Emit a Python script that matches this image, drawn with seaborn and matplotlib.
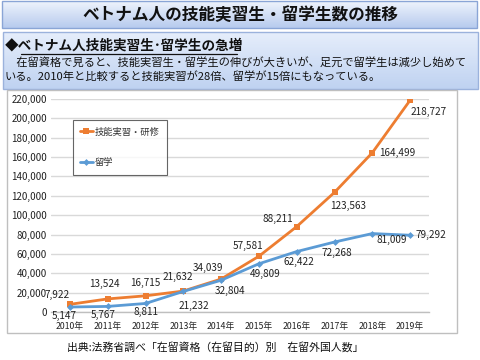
import numpy as np
import matplotlib
matplotlib.use("Agg")
import matplotlib.pyplot as plt
import seaborn as sns
import pandas as pd
from matplotlib.patches import Rectangle

years = ["2010年", "2011年", "2012年", "2013年", "2014年",
         "2015年", "2016年", "2017年", "2018年", "2019年"]
trainee = [7922, 13524, 16715, 21632, 34039, 57581, 88211, 123563, 164499, 218727]
student = [5147, 5767, 8811, 21232, 32804, 49809, 62422, 72268, 81009, 79292]
series_names = ["技能実習・研修", "留学"]
yticks = list(range(0, 220001, 20000))

title = "ベトナム人の技能実習生・留学生数の推移"
heading = "◆ベトナム人技能実習生･留学生の急増"
body1 = "　在留資格で見ると、技能実習生・留学生の伸びが大きいが、足元で留学生は減少し始めて"
body2 = "いる。2010年と比較すると技能実習が28倍、留学が15倍にもなっている。"
source = "出典:法務省調べ「在留資格（在留目的）別　在留外国人数」"

# label offsets in pixels (style)
off_tr = [(-13, 9), (-3, 15), (0, 13), (-6, 14), (-13, 11), (-11, 10), (-19, 8), (14, -14), (25, 0), (19, -12)]
off_st = [(-6, -9), (-5, -9), (0, -9), (11, -15), (9, -11), (6, -10), (2, -10), (2, -11), (19, -6), (21, 0)]

sns.set_theme(style="white")
plt.rcParams['font.family'] = ['Noto Sans CJK JP', 'DejaVu Sans']

W, H = 480, 360
fig = plt.figure(figsize=(4.8, 3.6), dpi=100)

# background drawing axes in pixel coords
bg = fig.add_axes([0, 0, 1, 1])
bg.set_xlim(0, W)
bg.set_ylim(H, 0)
bg.axis("off")

def grad_box(x0, y0, x1, y1, ctop, cbot, edge):
    c1 = np.array(matplotlib.colors.to_rgb(ctop))
    c2 = np.array(matplotlib.colors.to_rgb(cbot))
    t = np.linspace(0, 1, 64)[:, None]
    img = (c1 * (1 - t) + c2 * t)[:, None, :]
    bg.imshow(img, extent=(x0, x1, y1, y0), aspect="auto", zorder=0, interpolation="bilinear")
    bg.add_patch(Rectangle((x0, y0), x1 - x0, y1 - y0, fill=False, edgecolor=edge, lw=1, zorder=1))

grad_box(2, 1, 477, 28, "#eef3fc", "#b7cbee", "#8aa5d6")
grad_box(3, 32, 478, 89, "#e6eefb", "#bfd2f1", "#9bb2dc")
bg.add_patch(Rectangle((7, 90), 450, 243, facecolor="white", edgecolor="#bfbfbf", lw=1, zorder=1))
bg.set_xlim(0, W)
bg.set_ylim(H, 0)

bg.text(240, 14.5, title, ha="center", va="center", fontsize=12, fontweight="bold", color="#111111", zorder=3)
bg.text(5, 46, heading, ha="left", va="center", fontsize=9.8, fontweight="bold", color="#111111", zorder=3)
bg.plot([21, 237], [54, 54], color="#111111", lw=0.9, zorder=3)
bg.text(5, 62.5, body1, ha="left", va="center", fontsize=8.1, color="#111111", zorder=3)
bg.text(5, 77, body2, ha="left", va="center", fontsize=8.1, color="#111111", zorder=3)
bg.text(215, 347, source, ha="center", va="center", fontsize=7.8, color="#111111", zorder=3)

# main chart axes
ax = fig.add_axes([51 / W, (H - 312) / H, 378 / W, 213 / H])
ax.patch.set_alpha(0)

df = pd.DataFrame({
    "year": years * 2,
    "value": trainee + student,
    "series": [series_names[0]] * len(years) + [series_names[1]] * len(years),
})
orange = "#ED7D31"
blue = "#5B9BD5"
sns.lineplot(data=df[df.series == series_names[0]], x="year", y="value", ax=ax,
             color=orange, lw=2, marker="s", markersize=5, markeredgewidth=0,
             label=series_names[0], zorder=3)
sns.lineplot(data=df[df.series == series_names[1]], x="year", y="value", ax=ax,
             color=blue, lw=2, marker="D", markersize=3.5, markeredgewidth=0,
             label=series_names[1], zorder=3)

ax.set_xlim(-0.5, len(years) - 0.5)
ax.set_ylim(0, 220000)
ax.set_yticks(yticks)
ax.set_yticklabels([f"{v:,}" for v in yticks], fontsize=7, color="#222222")
ax.set_xticks(range(len(years)))
ax.set_xticklabels(years, fontsize=6.3, color="#222222")
ax.set_xticks(np.arange(-0.5, len(years), 1), minor=True)
ax.tick_params(axis="x", which="major", length=0, pad=7)
ax.tick_params(axis="x", which="minor", length=3, color="#bfbfbf", width=0.8, direction="out")
ax.tick_params(axis="y", length=0, pad=3)
ax.set_xlabel("")
ax.set_ylabel("")
ax.grid(axis="y", color="#d9d9d9", lw=1)
ax.set_axisbelow(True)
for s in ["top", "right", "left"]:
    ax.spines[s].set_visible(False)
ax.spines["bottom"].set_color("#bfbfbf")
ax.spines["bottom"].set_linewidth(1)

for i, v in enumerate(trainee):
    ax.annotate(f"{v:,}", (i, v), xytext=off_tr[i], textcoords="offset pixels",
                ha="center", va="center", fontsize=7.2, color="#222222", zorder=4)
for i, v in enumerate(student):
    ax.annotate(f"{v:,}", (i, v), xytext=off_st[i], textcoords="offset pixels",
                ha="center", va="center", fontsize=7.2, color="#222222", zorder=4)

leg = ax.legend(loc="upper left", bbox_to_anchor=(73 / W, (H - 120) / H),
                bbox_transform=fig.transFigure, fontsize=6.7, frameon=True,
                fancybox=False, edgecolor="#404040", labelspacing=2.3,
                handlelength=1.3, handletextpad=0.2, borderpad=0.8,
                borderaxespad=0)
leg.get_frame().set_linewidth(0.8)
leg.get_frame().set_facecolor("white")
for t in leg.get_texts():
    t.set_color("#333333")

fig.savefig("out.png", dpi=100)
